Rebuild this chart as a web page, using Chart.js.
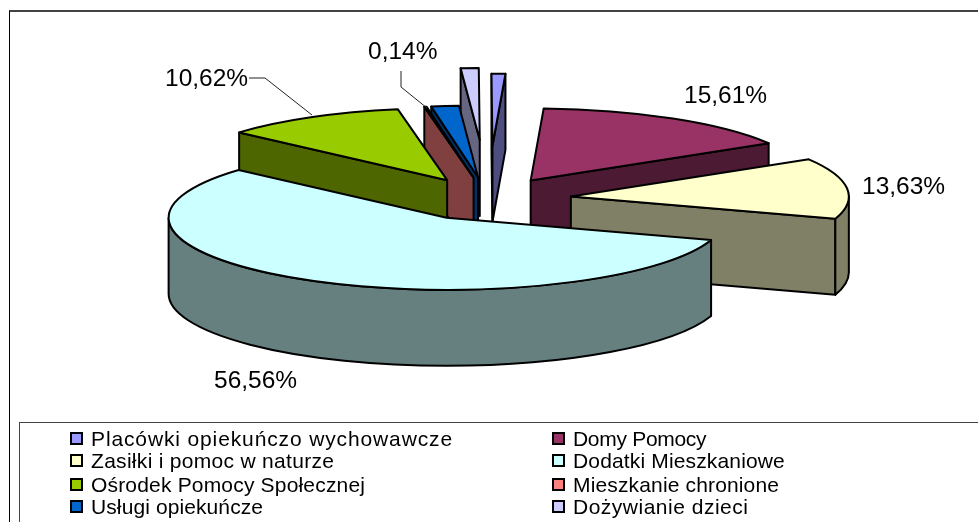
<!DOCTYPE html>
<html>
<head>
<meta charset="utf-8">
<style>
  html, body { margin: 0; padding: 0; background: #fff; overflow: hidden; }
  #wrap { position: relative; width: 978px; height: 522px; }
  #pie { position: absolute; left: 0; top: 0; }
  #frame { position: absolute; left: 9px; top: 10px; width: 980px; height: 530px; border: 1px solid #000; border-top: 2px solid #444; box-sizing: border-box; }
  #legendBox { position: absolute; left: 19px; top: 422px; width: 970px; height: 110px; border: 1px solid #444; box-sizing: border-box; }
  .item { position: absolute; font: 21px "Liberation Sans", Arial, sans-serif; line-height: 22px; color: #000; white-space: nowrap; }
  .swatch { position: absolute; left: -21px; top: 4px; width: 9px; height: 9px; border: 2px solid #000; }
</style>
</head>
<body>
<div id="wrap">
  <div id="frame"></div>
  <canvas id="pie" width="978" height="522"></canvas>
  <div id="legendBox"></div>
</div>
<script src="https://cdn.jsdelivr.net/npm/chart.js@4"></script>
<script>
const categories = [
  "Placówki opiekuńczo wychowawcze",
  "Domy Pomocy",
  "Zasiłki i pomoc w naturze",
  "Dodatki Mieszkaniowe",
  "Ośrodek Pomocy Społecznej",
  "Mieszkanie chronione",
  "Usługi opiekuńcze",
  "Dożywianie dzieci",
];
const shares = [0.8, 15.61, 13.63, 56.56, 10.62, 0.14, 1.6, 1.04];
const topColors = ["#9999FF", "#993366", "#FFFFCC", "#CCFFFF", "#99CC00", "#FF8080", "#0066CC", "#CCCCFF"];
const wallColors = ["#4D4D80", "#4D1A33", "#808066", "#668080", "#4D6600", "#804040", "#003366", "#666680"];
// how far each slice is pulled out, as a fraction of the radius
const explode = [0.74, 0.3, 0.3, 0.3, 0.3, 0.3, 0.3, 0.82];
const paintOrder = [0, 7, 1, 6, 5, 4, 2, 3];
const labelTexts = ["0,14%", "10,62%", "15,61%", "13,63%", "56,56%"];
// the old renderer spread some legend strings a little wider
const legendSpacing = [0.87, -0.3, 0.3, 0.15, 0.18, 0.15, 0.1, 0.5];

const pieCenterX = 488;
const pieCenterY = 199;
const radiusX = 278;
const radiusY = 72;
const depth = 76;

function pieGeometry(arc, i) {
  const mid = (arc.startAngle + arc.endAngle) / 2;
  return {
    x: pieCenterX + explode[i] * radiusX * Math.cos(mid),
    y: pieCenterY + explode[i] * radiusY * Math.sin(mid),
    start: arc.startAngle,
    end: arc.endAngle,
  };
}

function outline(ctx, lineWidth) {
  ctx.lineWidth = lineWidth;
  ctx.strokeStyle = "#000";
  ctx.lineJoin = "round";
  ctx.stroke();
}

function drawRadialWall(ctx, g, angle, color) {
  const px = g.x + radiusX * Math.cos(angle);
  const py = g.y + radiusY * Math.sin(angle);
  ctx.beginPath();
  ctx.moveTo(g.x, g.y);
  ctx.lineTo(px, py);
  ctx.lineTo(px, py + depth);
  ctx.lineTo(g.x, g.y + depth);
  ctx.closePath();
  ctx.fillStyle = color;
  ctx.fill();
  outline(ctx, 2);
}

function drawOuterWall(ctx, g, color) {
  const a = Math.max(g.start, 0);
  const b = Math.min(g.end, Math.PI);
  if (a >= b) return;
  ctx.beginPath();
  ctx.ellipse(g.x, g.y, radiusX, radiusY, 0, a, b);
  ctx.ellipse(g.x, g.y + depth, radiusX, radiusY, 0, b, a, true);
  ctx.closePath();
  ctx.fillStyle = color;
  ctx.fill();
  outline(ctx, 2);
}

function drawTop(ctx, arc, g) {
  // fill comes from the chart's own arc element, squashed into an ellipse
  ctx.save();
  ctx.translate(g.x, g.y);
  ctx.scale(radiusX / arc.outerRadius, radiusY / arc.outerRadius);
  ctx.translate(-arc.x, -arc.y);
  arc.draw(ctx);
  ctx.restore();
  ctx.beginPath();
  ctx.moveTo(g.x, g.y);
  ctx.ellipse(g.x, g.y, radiusX, radiusY, 0, g.start, g.end);
  ctx.closePath();
  outline(ctx, 2);
}

const pie3d = {
  id: "pie3d",
  beforeDatasetsDraw(chart) {
    const ctx = chart.ctx;
    const arcs = chart.getDatasetMeta(0).data;
    paintOrder.forEach((i) => {
      const g = pieGeometry(arcs[i], i);
      ctx.save();
      if (Math.cos(g.start) < 0) drawRadialWall(ctx, g, g.start, wallColors[i]);
      if (Math.cos(g.end) > 0) drawRadialWall(ctx, g, g.end, wallColors[i]);
      drawOuterWall(ctx, g, wallColors[i]);
      ctx.restore();
      drawTop(ctx, arcs[i], g);
    });
    return false;
  },
  afterDraw(chart) {
    const ctx = chart.ctx;
    ctx.save();
    ctx.strokeStyle = "#222";
    ctx.lineWidth = 1;
    ctx.beginPath();
    ctx.moveTo(249, 78);
    ctx.lineTo(265, 78);
    ctx.lineTo(312, 115);
    ctx.moveTo(401, 71);
    ctx.lineTo(401, 87);
    ctx.lineTo(427, 108);
    ctx.stroke();
    ctx.fillStyle = "#000";
    ctx.font = '24.5px "Liberation Sans", Arial, sans-serif';
    ctx.textBaseline = "alphabetic";
    const spots = [[368, 59], [165, 86], [684, 103], [862, 194], [214, 388]];
    labelTexts.forEach((text, i) => ctx.fillText(text, spots[i][0], spots[i][1]));
    ctx.restore();
  },
};

new Chart(document.getElementById("pie"), {
  type: "pie",
  data: {
    labels: categories,
    datasets: [{ data: shares, backgroundColor: topColors, borderWidth: 0 }],
  },
  options: {
    responsive: false,
    animation: false,
    rotation: -0.2,
    events: [],
    plugins: { legend: { display: false }, tooltip: { enabled: false } },
  },
  plugins: [pie3d],
});

// legend, two columns reading left to right
const wrap = document.getElementById("wrap");
const rowTops = [428, 450, 474, 496];
categories.forEach((name, i) => {
  const item = document.createElement("div");
  item.className = "item";
  item.style.left = (i % 2 === 0 ? 91 : 573) + "px";
  item.style.top = rowTops[Math.floor(i / 2)] + "px";
  item.style.letterSpacing = legendSpacing[i] + "px";
  item.textContent = name;
  const swatch = document.createElement("span");
  swatch.className = "swatch";
  swatch.style.background = topColors[i];
  item.appendChild(swatch);
  wrap.appendChild(item);
});
</script>
</body>
</html>
